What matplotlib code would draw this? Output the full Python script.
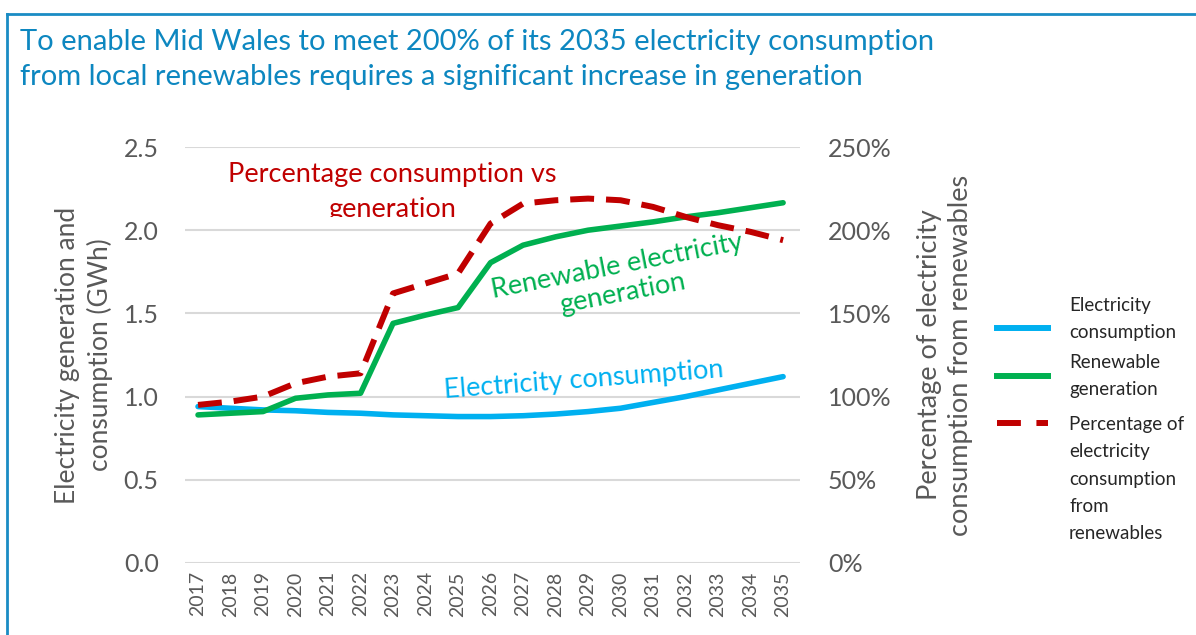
import matplotlib.pyplot as plt
from matplotlib.lines import Line2D
from matplotlib.transforms import Bbox
from matplotlib.ticker import FuncFormatter

plt.rcParams['font.family'] = ['Lato', 'DejaVu Sans']

years = list(range(2017, 2036))
consumption = [0.94, 0.93, 0.92, 0.915, 0.905, 0.90, 0.89, 0.885, 0.88, 0.88,
               0.885, 0.895, 0.91, 0.93, 0.965, 1.0, 1.04, 1.08, 1.12]
generation = [0.89, 0.90, 0.91, 0.99, 1.01, 1.02, 1.44, 1.49, 1.535, 1.805,
              1.91, 1.96, 2.0, 2.025, 2.05, 2.08, 2.105, 2.135, 2.165]
pct_renew = [95, 97, 100, 108, 112, 114, 162, 168, 174, 204,
             216, 218, 219, 218, 214, 208, 203, 199, 194]
legend_labels = ['Electricity\nconsumption', 'Renewable\ngeneration',
                 'Percentage of\nelectricity\nconsumption\nfrom\nrenewables']

blue = '#00b0f0'
green = '#00b050'
red = '#c00000'
grey = '#595959'
W, H = 1196, 635

fig = plt.figure(figsize=(11.96, 6.35), dpi=100)
ax = fig.add_axes([0.1547, 0.1134, 0.5142, 0.6551])
ax2 = ax.twinx()

ax.plot(years, consumption, color=blue, lw=4, solid_capstyle='round')
ax.plot(years, generation, color=green, lw=4, solid_capstyle='round')
ax2.plot(years, pct_renew, color=red, lw=4.3, dashes=(4, 2))

ax.set_xlim(2016.6, 2035.52)
ax.set_ylim(0, 2.5)
ax2.set_ylim(0, 250)
ax.set_yticks([0, 0.5, 1.0, 1.5, 2.0, 2.5])
ax2.set_yticks([0, 50, 100, 150, 200, 250])
ax.yaxis.set_major_formatter(FuncFormatter(lambda v, p: f'{v:.1f}'))
ax2.yaxis.set_major_formatter(FuncFormatter(lambda v, p: f'{v:.0f}%'))
ax.set_xticks(years)
ax.set_xticklabels([str(y) for y in years], rotation=90)

ax.grid(axis='y', color='#d9d9d9', lw=1.5)
ax.set_axisbelow(True)
for a in (ax, ax2):
    for s in a.spines.values():
        s.set_visible(False)
    a.tick_params(length=0, colors=grey)
ax.tick_params(axis='y', labelsize=18, pad=19)
ax2.tick_params(axis='y', labelsize=18, pad=20)
ax.tick_params(axis='x', labelsize=14, pad=6)

ax.set_ylabel('Electricity generation and\nconsumption (GWh)', fontsize=19,
              color=grey, labelpad=8, linespacing=1.3)
ax2.set_ylabel('Percentage of electricity\nconsumption from renewables',
               fontsize=19.5, color=grey, labelpad=18, linespacing=1.3)

# in-chart labels (the original cuts off the bottom of the red one)
for txt, yv in [('Percentage consumption vs', 2.29), ('generation', 2.079)]:
    t = ax.text(2022.97, yv, txt, color=red, fontsize=19.5,
                ha='center', va='baseline')
    t.set_clip_path(None)
    t.set_clip_box(Bbox([[0, H - 216.5], [W, H]]))
    t.set_clip_on(True)
ax.text(2029.98, 1.70, 'Renewable electricity\ngeneration', color=green,
        fontsize=19.5, ha='center', va='center', rotation=11, linespacing=1.15)
ax.text(2028.88, 1.10, 'Electricity consumption', color=blue,
        fontsize=19.5, ha='center', va='center', rotation=4.3)

# legend, laid out like the original
handle_y = [328, 376, 423]
text_y = [319, 376, 479]
styles = [dict(color=blue), dict(color=green), dict(color=red, dashes=(4, 2.6))]
for hy, ty, lab, st in zip(handle_y, text_y, legend_labels, styles):
    fig.add_artist(Line2D([997 / W, 1048 / W], [1 - hy / H, 1 - hy / H], lw=4.3, **st))
    fig.text(1069 / W, 1 - ty / H, lab, fontsize=13.5, color='#262626',
             ha='left', va='center', linespacing=1.73)

fig.text(20 / W, 1 - 29 / H, 'To enable Mid Wales to meet 200% of its 2035 electricity consumption\n'
         'from local renewables requires a significant increase in generation',
         color='#0d87c0', fontsize=21, va='top', ha='left', linespacing=1.42)

# blue frame
fig.add_artist(Line2D([7 / W, 7 / W], [0, 1 - 14 / H], color='#1a8cc4', lw=2))
fig.add_artist(Line2D([7 / W, 1], [1 - 14 / H, 1 - 14 / H], color='#1a8cc4', lw=2))

fig.savefig('out.png', dpi=100)
